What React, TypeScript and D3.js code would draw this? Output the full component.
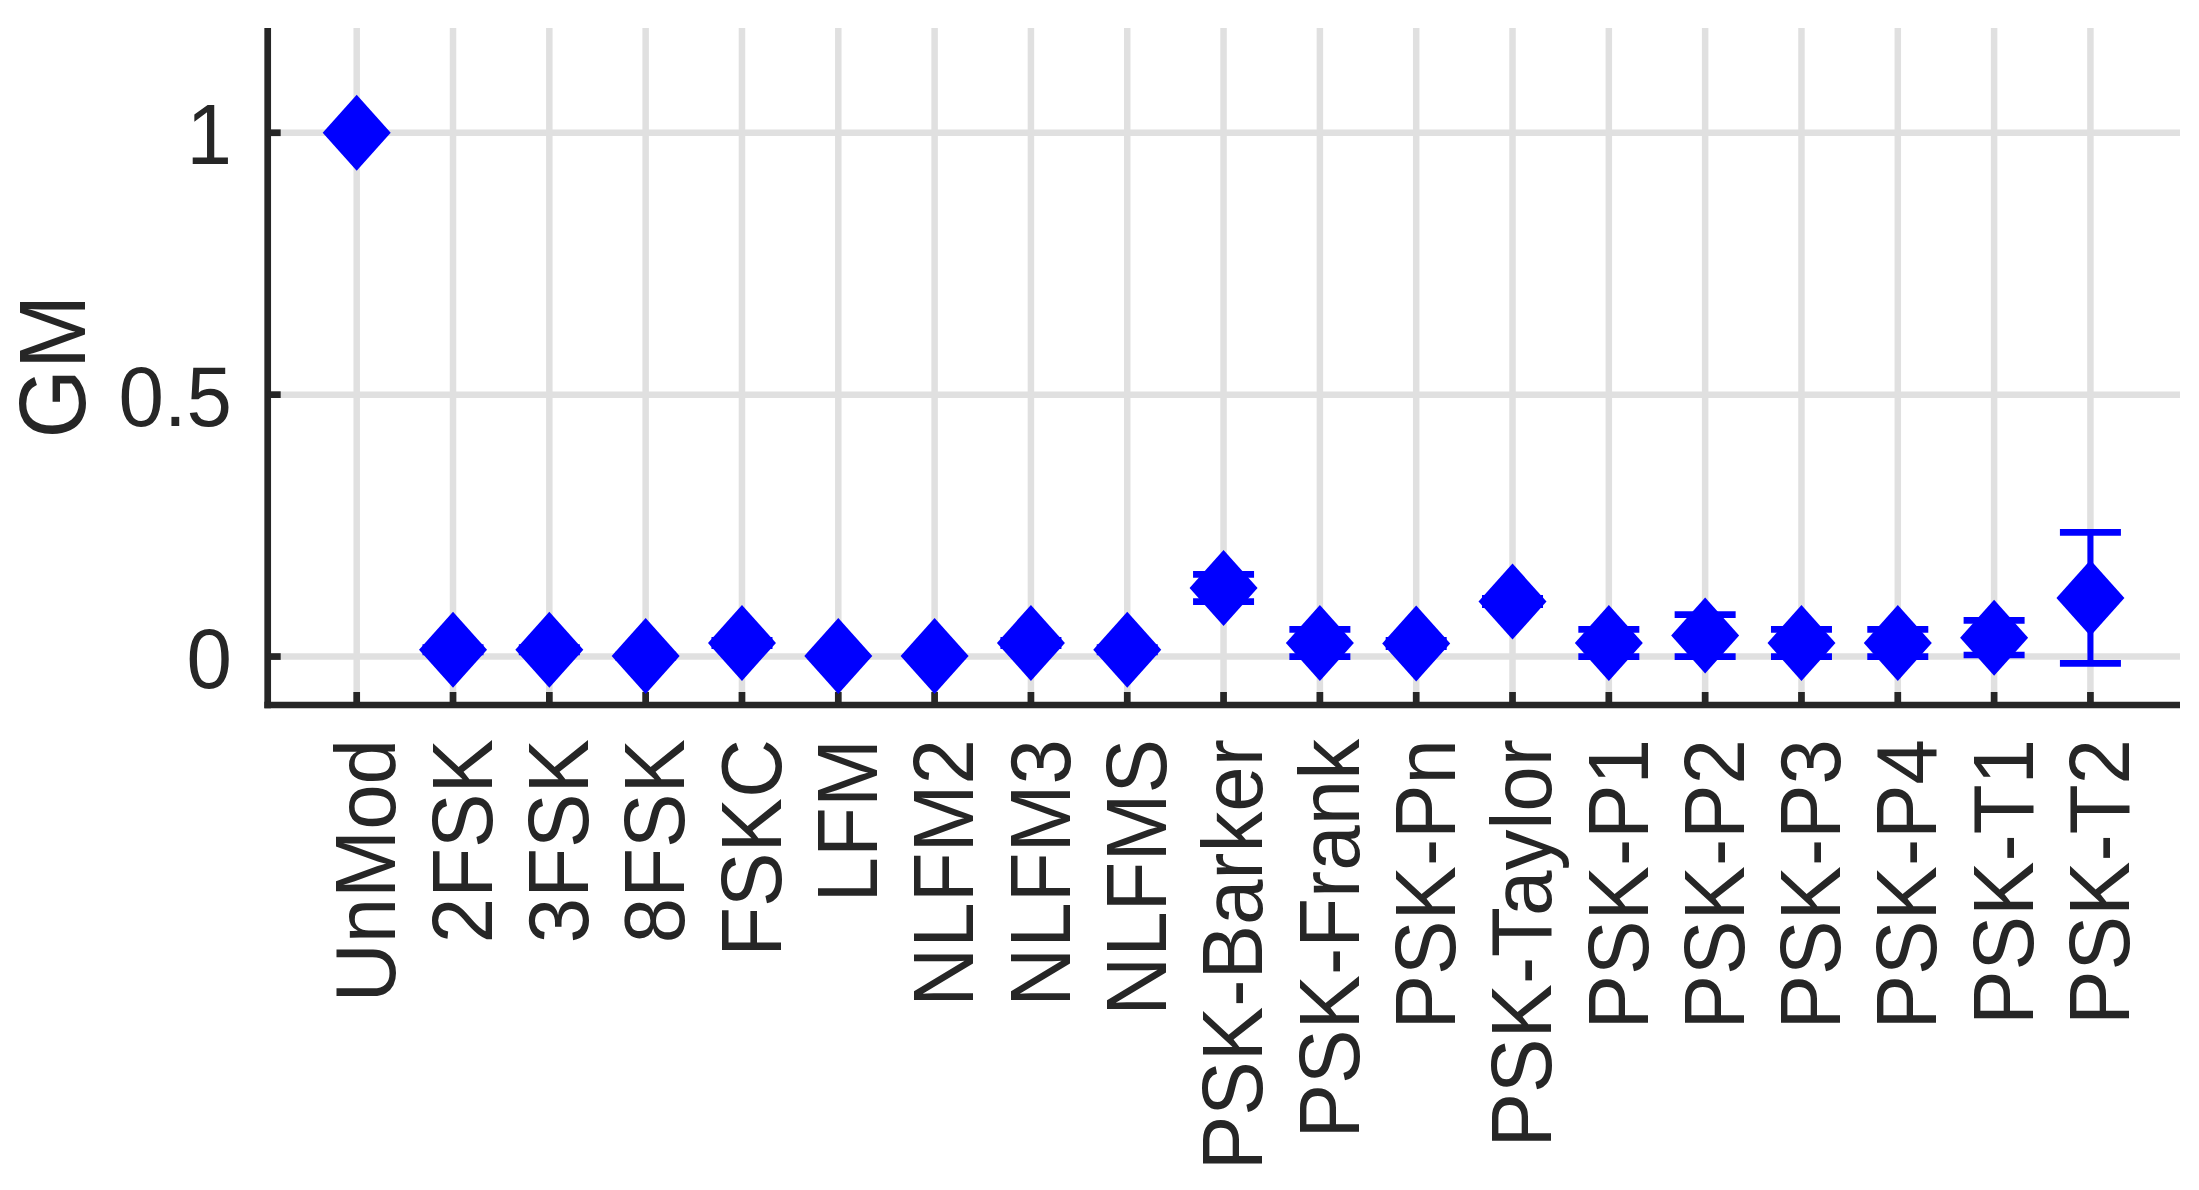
import React from "react";
import * as d3 from "d3";

// signal classes along the x axis
const categories = [
  "UnMod", "2FSK", "3FSK", "8FSK", "FSKC", "LFM", "NLFM2", "NLFM3", "NLFMS",
  "PSK-Barker", "PSK-Frank", "PSK-Pn", "PSK-Taylor", "PSK-P1", "PSK-P2",
  "PSK-P3", "PSK-P4", "PSK-T1", "PSK-T2",
];

// GM mean and +/- error
const gmMean = [
  1.0, 0.013, 0.013, 0.001, 0.026, 0.001, 0.001, 0.026, 0.013,
  0.131, 0.026, 0.025, 0.105, 0.026, 0.04, 0.026, 0.026, 0.036, 0.112,
];
const gmErr = [
  0, 0.004, 0.004, 0.002, 0.005, 0.001, 0.001, 0.005, 0.004,
  0.026, 0.026, 0.006, 0.006, 0.026, 0.04, 0.026, 0.026, 0.033, 0.125,
];

const yTicks = [0, 0.5, 1];
const yTickLabels = ["0", "0.5", "1"];
const yLabel = "GM";

const W = 2199;
const H = 1190;
const axisColor = "#262626";
const gridColor = "#e0e0e0";
const markColor = "#0000ff";
const font = "'Liberation Sans', Arial, Helvetica, sans-serif";

export default function App() {
  const left = 267.7, right = 2180, top = 28, bottom = 705;

  const x = d3.scaleLinear().domain([0.076, 19.93]).range([left, right]);
  const y = d3.scaleLinear().domain([-0.0925, 1.2]).range([bottom, top]);

  const hw = 34, hh = 38; // diamond half sizes
  const capHalf = 30.5;
  const squeeze = 0.95; // text a bit narrower than Liberation Sans

  return (
    <div style={{ position: "absolute", left: 0, top: 0 }}>
      <svg width={W} height={H} style={{ display: "block", background: "#fff" }}>
        {/* grid */}
        <g stroke={gridColor} strokeWidth={6.5}>
          {categories.map((c, i) => (
            <line key={"gx" + c} x1={x(i + 1)} x2={x(i + 1)} y1={bottom} y2={top} />
          ))}
          {yTicks.map((t) => (
            <line key={"gy" + t} x1={left} x2={right} y1={y(t)} y2={y(t)} />
          ))}
        </g>

        {/* axes */}
        <g stroke={axisColor} strokeWidth={6.7} fill="none">
          <line x1={left} x2={left} y1={top} y2={bottom + 3.35} />
          <line x1={left - 3.35} x2={right} y1={bottom} y2={bottom} />
          {categories.map((c, i) => (
            <line key={"tx" + c} x1={x(i + 1)} x2={x(i + 1)} y1={bottom} y2={bottom - 13} />
          ))}
          {yTicks.map((t) => (
            <line key={"ty" + t} x1={left} x2={left + 13} y1={y(t)} y2={y(t)} />
          ))}
        </g>

        {/* y tick labels */}
        <g fill={axisColor} fontFamily={font} fontSize={86} textAnchor="end">
          {yTicks.map((t, i) => (
            <text
              key={"yl" + t}
              transform={`translate(232,${y(t)}) scale(${squeeze},1)`}
              dy="0.36em"
            >
              {yTickLabels[i]}
            </text>
          ))}
        </g>

        {/* x tick labels */}
        <g fill={axisColor} fontFamily={font} fontSize={86} textAnchor="end">
          {categories.map((c, i) => (
            <text
              key={"xl" + c}
              transform={`translate(${x(i + 1)},${739}) rotate(-90) scale(${squeeze},1)`}
              dy="0.45em"
            >
              {c}
            </text>
          ))}
        </g>

        {/* y label */}
        <text
          transform={`translate(85,${(top + bottom) / 2}) rotate(-90) scale(${squeeze},1)`}
          textAnchor="middle"
          fontFamily={font}
          fontSize={94}
          fill={axisColor}
        >
          {yLabel}
        </text>

        {/* error bars */}
        <g stroke={markColor} fill="none">
          {gmMean.map((m, i) => {
            const cx = x(i + 1);
            const y1 = y(m + gmErr[i]);
            const y0 = y(m - gmErr[i]);
            return (
              <g key={"eb" + i}>
                <line x1={cx} x2={cx} y1={y1} y2={y0} strokeWidth={6} />
                <line x1={cx - capHalf} x2={cx + capHalf} y1={y1} y2={y1} strokeWidth={6.7} />
                <line x1={cx - capHalf} x2={cx + capHalf} y1={y0} y2={y0} strokeWidth={6.7} />
              </g>
            );
          })}
        </g>

        {/* diamond markers */}
        <g fill={markColor}>
          {gmMean.map((m, i) => {
            const cx = x(i + 1);
            const cy = y(m);
            return (
              <path
                key={"pt" + i}
                d={`M${cx},${cy - hh}L${cx + hw},${cy}L${cx},${cy + hh}L${cx - hw},${cy}Z`}
              />
            );
          })}
        </g>
      </svg>
    </div>
  );
}
